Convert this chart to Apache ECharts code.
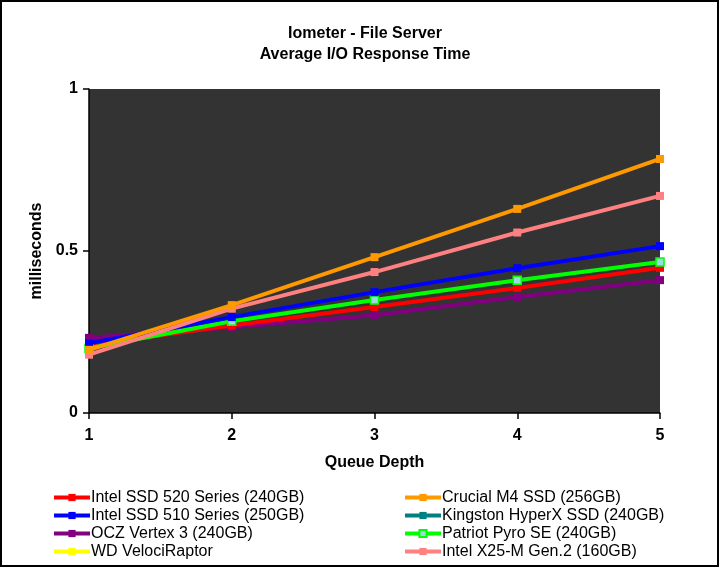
<!DOCTYPE html>
<html>
<head>
<meta charset="utf-8">
<script src="https://cdn.jsdelivr.net/npm/echarts@6/dist/echarts.min.js"></script>
<style>html,body{margin:0;padding:0;background:#fff}#c{width:720px;height:568px}</style>
</head>
<body>
<div id="c"></div>
<script>
const queueDepth = [1, 2, 3, 4, 5];
const yTicks = [0, 0.5, 1];
const names = ["Intel SSD 520 Series (240GB)", "Intel SSD 510 Series (250GB)", "OCZ Vertex 3 (240GB)", "WD VelociRaptor",
  "Crucial M4 SSD (256GB)", "Kingston HyperX SSD (240GB)", "Patriot Pyro SE (240GB)", "Intel X25-M Gen.2 (160GB)"];
const intel520 = [0.21, 0.27, 0.327, 0.386, 0.448];
const intel510 = [0.215, 0.296, 0.373, 0.447, 0.515];
const ocz = [0.232, 0.265, 0.302, 0.358, 0.41];
const wd = [];
const crucial = [0.195, 0.333, 0.481, 0.63, 0.784];
const kingston = [];
const patriot = [0.2, 0.283, 0.349, 0.41, 0.466];
const x25m = [0.18, 0.322, 0.435, 0.557, 0.67];
const colors = ["#ff0000", "#0000ff", "#800080", "#ffff00", "#ff9900", "#008080", "#00ff00", "#ff8080"];
const dataSets = [intel520, intel510, ocz, wd, crucial, kingston, patriot, x25m];

const drawOrder = [3, 5, 2, 0, 6, 1, 7, 4];
const series = names.map((n, i) => ({
  name: n,
  type: 'line',
  data: dataSets[i].map((v, k) => [queueDepth[k], v]),
  symbol: 'rect',
  symbolSize: 8,
  showSymbol: true,
  z: 2 + drawOrder.indexOf(i),
  lineStyle: { color: colors[i], width: 4 },
  itemStyle: i === 6 ? { color: '#99dddd', borderColor: '#00ff00', borderWidth: 1.5 } : { color: colors[i], borderWidth: 0 },
  emphasis: { disabled: true },
  animation: false
}));

const chart = echarts.init(document.getElementById('c'));
const fontFam = 'Liberation Sans, Arial, sans-serif';
const legendCommon = {
  top: 489, height: 79, padding: 0, orient: 'vertical', itemGap: 1, itemWidth: 36, itemHeight: 9,
  lineStyle: { width: 4 },
  textStyle: { fontFamily: fontFam, fontSize: 16, color: '#000', padding: [0, 0, 0, -4], lineHeight: 17 },
  selectedMode: false
};
chart.setOption({
  animation: false,
  backgroundColor: '#ffffff',
  title: {
    text: 'Iometer - File Server\nAverage I/O Response Time',
    left: 360, top: 18, textAlign: 'center',
    textStyle: { fontFamily: fontFam, fontSize: 16, fontWeight: 'bold', color: '#000', lineHeight: 21 }
  },
  grid: { left: 89, right: 60, top: 89, bottom: 155, containLabel: false, show: true, backgroundColor: '#333333', borderWidth: 0 },
  xAxis: {
    type: 'value', min: 1, max: 5, interval: 1,
    name: 'Queue Depth', nameLocation: 'middle', nameGap: 42,
    nameTextStyle: { fontFamily: fontFam, fontSize: 16, fontWeight: 'bold', color: '#000' },
    axisLine: { show: true, onZero: false, lineStyle: { color: '#000', width: 1.5 } },
    axisTick: { show: true, length: 6, lineStyle: { color: '#000', width: 1.5 } },
    axisLabel: { fontFamily: fontFam, fontSize: 16, fontWeight: 'bold', color: '#000', margin: 15 },
    splitLine: { show: false }
  },
  yAxis: {
    type: 'value', min: 0, max: 1, interval: 0.5,
    name: 'milliseconds', nameLocation: 'middle', nameGap: 42, nameRotate: 90,
    nameTextStyle: { fontFamily: fontFam, fontSize: 16, fontWeight: 'bold', color: '#000' },
    axisLine: { show: true, lineStyle: { color: '#000', width: 1.5 } },
    axisTick: { show: true, length: 6, lineStyle: { color: '#000', width: 1.5 } },
    axisLabel: { fontFamily: fontFam, fontSize: 16, fontWeight: 'bold', color: '#000', margin: 11,
      formatter: v => yTicks.includes(v) ? String(v) : '' },
    splitLine: { show: false }
  },
  legend: [
    Object.assign({ data: names.slice(0, 4), left: 52 }, legendCommon),
    Object.assign({ data: names.slice(4), left: 403 }, legendCommon)
  ],
  graphic: [{ type: 'rect', shape: { x: 1, y: 1, width: 717, height: 565 }, style: { fill: 'none', stroke: '#000', lineWidth: 2 }, silent: true, z: 100 }],
  series: series
});
</script>
</body>
</html>
